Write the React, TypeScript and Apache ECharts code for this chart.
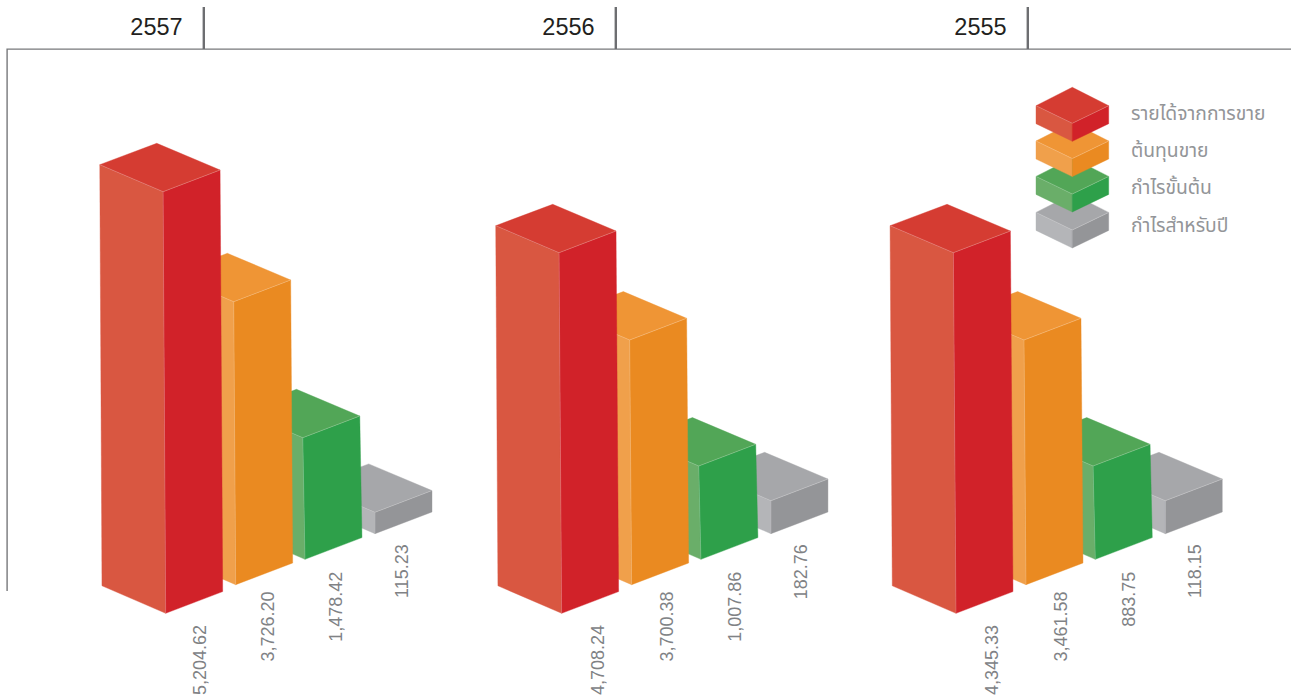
import React, { useEffect, useRef } from "react";
import * as echarts from "echarts";

const years = ["2557", "2556", "2555"];
const seriesNames = ["รายได้จากการขาย", "ต้นทุนขาย", "กำไรขั้นต้น", "กำไรสำหรับปี"];

// Values printed under the bars
const revenueValues = [5204.62, 4708.24, 4345.33];
const costValues = [3726.2, 3700.38, 3461.58];
const grossValues = [1478.42, 1007.86, 883.75];
const profitValues = [115.23, 182.76, 118.15];

// Bar heights (the original artwork is not to scale)
const revenueHeights = [421.6, 360.6, 360.6];
const costHeights = [283, 244.7, 244.7];
const grossHeights = [121.6, 93.3, 93.3];
const profitHeights = [21.4, 33, 33];

const FONT = '"Liberation Sans", Arial, Helvetica, sans-serif';
const THAI = '"Noto Sans Thai", "Noto Sans Thai Looped", "Noto Sans", "DejaVu Sans", sans-serif';

const looks = [
  { left: "#d95741", right: "#d12229", top: "#d53c32", baseDx: -100, baseDy: 0, lean: 2.6, labelDx: -63.5, labelDy: 11.7 },
  { left: "#f0a04b", right: "#ea8a21", top: "#ef9535", baseDx: -30, baseDy: -28.6, lean: 2, labelDx: 5, labelDy: -21.8 },
  { left: "#6aae69", right: "#2ea04a", top: "#52a657", baseDx: 39.3, baseDy: -54, lean: 2.2, labelDx: 73, labelDy: -41.6 },
  { left: "#b4b5b8", right: "#949598", top: "#a6a7aa", baseDx: 109.3, baseDy: -79.6, lean: 0, labelDx: 139, labelDy: -69 },
];
const yearNudge = [0, 0.8, 0];
const labelNudge = [-2.5, 0, 0];

const seam = "rgba(255,255,255,0.3)";

function face(points: number[][], fill: string) {
  return { type: "polygon", shape: { points }, style: { fill, stroke: fill, lineWidth: 0.4 } };
}
function line(points: number[][]) {
  return { type: "polyline", shape: { points }, style: { stroke: seam, lineWidth: 0.7, fill: null } };
}

function makeRenderItem(look: (typeof looks)[number]) {
  return (_params: any, api: any) => {
    const idx = api.value(0);
    const h = api.value(1);
    const val = api.value(2);
    const base = api.coord([idx, 0]);
    const top = api.coord([idx, h]);
    const cx = base[0] + yearNudge[idx];
    const mbx = cx + look.baseDx;
    const mby = base[1] + look.baseDy;
    const mtx = mbx - look.lean;
    const mty = top[1] + look.baseDy;
    const p = {
      bl: [mbx - 63.7, mby - 27.5],
      bm: [mbx, mby],
      br: [mbx + 57, mby - 21.7],
      tl: [mtx - 63.3, mty - 27],
      tm: [mtx, mty],
      tr: [mtx + 57, mty - 21.7],
      tb: [mtx - 6.3, mty - 48.4],
    };
    const label = val.toLocaleString("en-US", { minimumFractionDigits: 2, maximumFractionDigits: 2 });
    return {
      type: "group",
      children: [
        face([p.tl, p.tm, p.bm, p.bl], look.left),
        face([p.tm, p.tr, p.br, p.bm], look.right),
        face([p.tl, p.tb, p.tr, p.tm], look.top),
        line([p.tl, p.tm, p.tr]),
        line([p.tm, p.bm]),
        {
          type: "text",
          x: cx + look.labelDx + labelNudge[idx],
          y: base[1] + look.labelDy,
          rotation: Math.PI / 2,
          style: { text: label, fill: "#808285", font: `18px ${FONT}`, align: "right", verticalAlign: "middle" },
        },
      ],
    };
  };
}

function legendCube(mx: number, my: number, look: (typeof looks)[number]) {
  const l = [mx - 36.3, my - 17.6];
  const r = [mx + 36.4, my - 17.6];
  const b = [mx, my - 36];
  const m = [mx, my];
  const dn = (q: number[]) => [q[0], q[1] + 18];
  return [
    face([l, m, dn(m), dn(l)], look.left),
    face([m, r, dn(r), dn(m)], look.right),
    face([l, b, r, m], look.top),
    line([l, m, r]),
  ];
}

export default function App() {
  const ref = useRef<HTMLDivElement>(null);
  useEffect(() => {
    if (!ref.current) return;
    const chart = echarts.init(ref.current, undefined, { renderer: "svg" });
    const values = [revenueValues, costValues, grossValues, profitValues];
    const heights = [revenueHeights, costHeights, grossHeights, profitHeights];
    const order = [3, 2, 1, 0];
    const headerStep = 412;
    const legendTops = [123.3, 158.6, 194, 230];
    chart.setOption({
      animation: false,
      backgroundColor: "#ffffff",
      grid: { left: 68.1, top: 13.3, width: 1185.45, height: 600, containLabel: false },
      xAxis: { type: "category", data: years, show: false },
      yAxis: { type: "value", min: 0, max: 600, show: false },
      series: order.map((s) => ({
        type: "custom",
        name: seriesNames[s],
        silent: true,
        clip: false,
        renderItem: makeRenderItem(looks[s]),
        encode: { x: 0, y: 1 },
        data: years.map((_, i) => [i, heights[s][i], values[s][i]]),
      })),
      graphic: [
        { type: "polygon", silent: true, shape: { points: [[6.4, 48.4], [1291, 48.4], [1291, 49.8], [7.8, 49.8], [7.8, 591], [6.4, 591]] }, style: { fill: "#77787b" } },
        ...years.flatMap((y, i) => [
          { type: "polygon", silent: true, shape: { points: [[202.6 + i * headerStep, 7], [205 + i * headerStep, 7], [205 + i * headerStep, 49], [202.6 + i * headerStep, 49]] }, style: { fill: "#6d6e71" } },
          { type: "text", silent: true, x: 156.5 + i * headerStep, y: 26.5, style: { text: y, fill: "#231f20", font: `23.5px ${FONT}`, align: "center", verticalAlign: "middle" } },
        ]),
        ...order.flatMap((s) => legendCube(1072.3, legendTops[s], looks[s]).map((e) => ({ ...e, silent: true }))),
        ...seriesNames.map((n, s) => ({
          type: "text",
          silent: true,
          x: 1131,
          y: 114 + s * 37.4,
          style: { text: n, fill: "#939598", font: `19.3px ${THAI}`, align: "left", verticalAlign: "middle" },
        })),
      ],
    });
    return () => chart.dispose();
  }, []);
  return <div ref={ref} style={{ position: "fixed", left: 0, top: 0, width: 1291, height: 695 }} />;
}
